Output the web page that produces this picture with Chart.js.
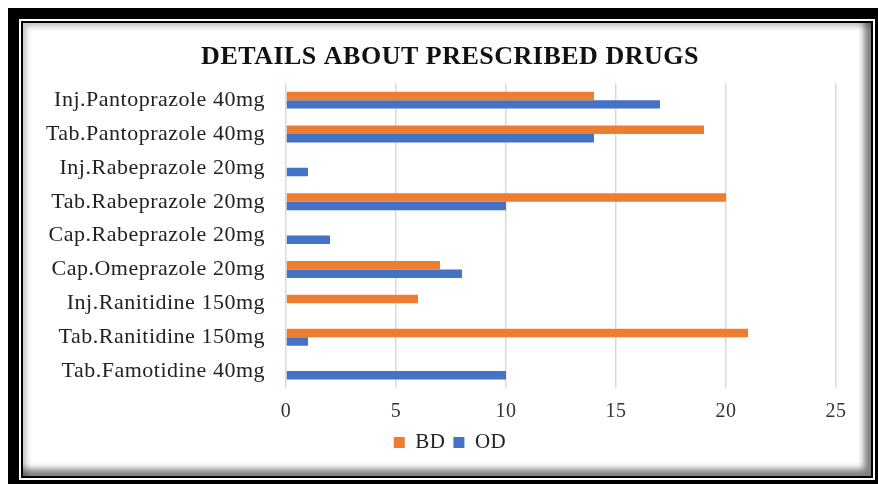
<!DOCTYPE html>
<html>
<head>
<meta charset="utf-8">
<script src="https://cdn.jsdelivr.net/npm/chart.js@4.4.1/dist/chart.umd.min.js"></script>
<style>
  html, body { margin: 0; padding: 0; background: #fff; }
  body { width: 878px; height: 484px; position: relative; overflow: hidden; }
  .f { position: absolute; }
  #f1 { left: 8px; top: 8px; width: 870px; height: 476px; background: #000; }
  #f2 { left: 19px; top: 19px; width: 856px; height: 461px; background: #fff; }
  #f3 { left: 21px; top: 21px; width: 852px; height: 457px; background: #000; }
  #f4 { left: 23px; top: 23px; width: 848px; height: 453px; background: #fff;
        box-shadow: inset -7px -7px 6px rgba(0,0,0,0.5), inset 4px 4px 5px rgba(0,0,0,0.22); }
  #chart { position: absolute; left: 22px; top: 0; }
</style>
</head>
<body>
<div class="f" id="f1"></div>
<div class="f" id="f2"></div>
<div class="f" id="f3"></div>
<div class="f" id="f4"></div>
<canvas id="chart" width="856" height="484"></canvas>
<script>
// drug names, top to bottom as in the picture
const drugs = [
  "Inj.Pantoprazole 40mg",
  "Tab.Pantoprazole 40mg",
  "Inj.Rabeprazole 20mg",
  "Tab.Rabeprazole 20mg",
  "Cap.Rabeprazole 20mg",
  "Cap.Omeprazole 20mg",
  "Inj.Ranitidine 150mg",
  "Tab.Ranitidine 150mg",
  "Tab.Famotidine 40mg",
];
const bdValues = [14, 19, 0, 20, 0, 7, 6, 21, 0];
const odValues = [17, 14, 1, 10, 2, 8, 0, 1, 10];
const xTicks = [0, 5, 10, 15, 20, 25];

const serif = "'Liberation Serif', 'Times New Roman', serif";

// the picture's text is a bit spread out
const spacing = {
  id: "spacing",
  beforeLayout(chart) { chart.ctx.letterSpacing = "0.5px"; },
  beforeDraw(chart) { chart.ctx.letterSpacing = "0.5px"; },
};

new Chart(document.getElementById("chart").getContext("2d"), {
  type: "bar",
  data: {
    labels: drugs,
    datasets: [
      { label: "BD", data: bdValues, backgroundColor: "#ED7D31", borderWidth: 0 },
      { label: "OD", data: odValues, backgroundColor: "#4472C4", borderWidth: 0 },
    ],
  },
  options: {
    indexAxis: "y",
    responsive: false,
    animation: false,
    barPercentage: 1,
    categoryPercentage: 0.5,
    layout: { padding: { left: 10, right: 10, top: 0, bottom: 21 } },
    scales: {
      x: {
        min: xTicks[0],
        max: xTicks[xTicks.length - 1],
        afterBuildTicks(scale) { scale.ticks = xTicks.map(v => ({ value: v })); },
        grid: { color: "#d9d9d9", lineWidth: 1.5, drawTicks: false },
        border: { display: false },
        ticks: { padding: 12, color: "#333", font: { family: serif, size: 20 } },
        afterFit(scale) { scale.height = 36; },
      },
      y: {
        grid: { display: false, drawTicks: false },
        border: { display: false },
        ticks: { padding: 21, color: "#222", font: { family: serif, size: 22 } },
        afterFit(scale) { scale.width = 254; },
      },
      // empty right-hand spacer so the title and legend centre like the picture
      yRight: {
        position: "right",
        grid: { display: false, drawTicks: false },
        border: { display: false },
        ticks: { display: false },
        afterFit(scale) { scale.width = 32; },
      },
    },
    plugins: {
      title: {
        display: true,
        text: "DETAILS ABOUT PRESCRIBED DRUGS",
        color: "#111",
        font: { family: serif, size: 26, weight: "bold" },
        padding: { top: 42, bottom: 10 },
      },
      legend: {
        position: "bottom",
        labels: {
          boxWidth: 11,
          boxHeight: 11,
          padding: 8,
          color: "#222",
          font: { family: serif, size: 21 },
        },
      },
      tooltip: { enabled: false },
    },
  },
  plugins: [spacing],
});
</script>
</body>
</html>
